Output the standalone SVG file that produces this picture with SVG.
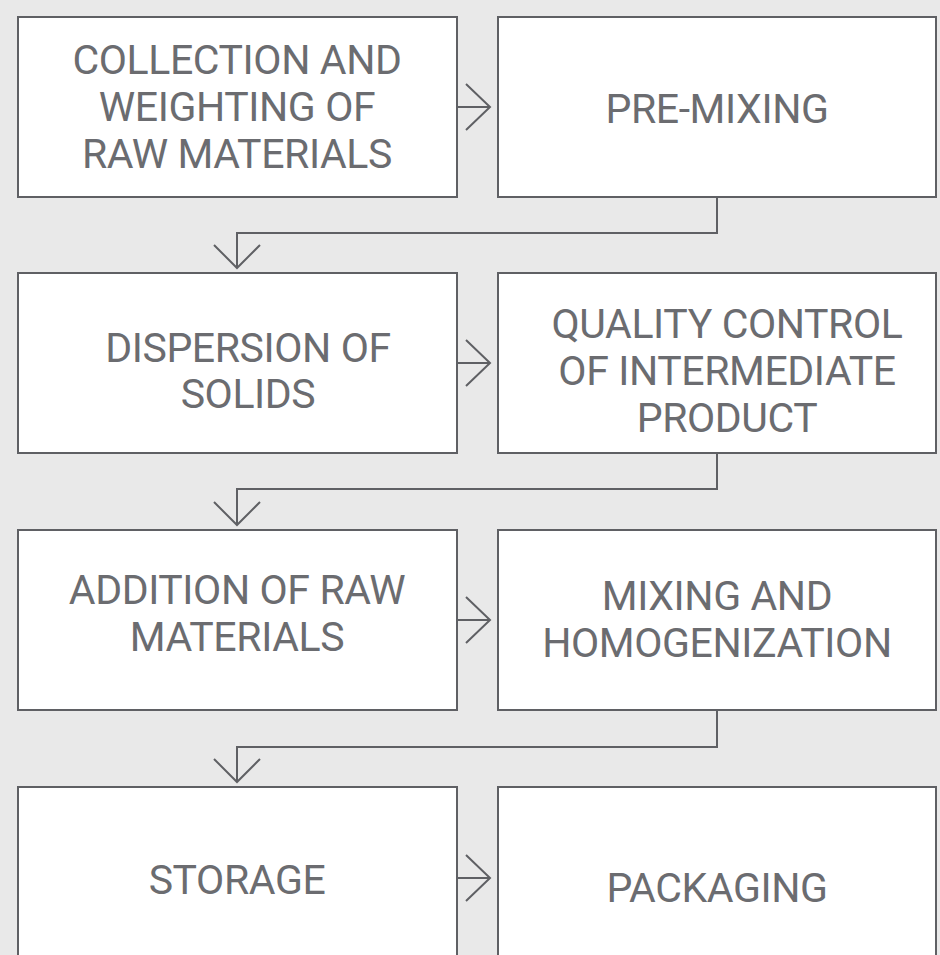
<svg xmlns="http://www.w3.org/2000/svg" width="940" height="955" viewBox="0 0 940 955">
  <style>
    .box { fill: #ffffff; stroke: #5f6064; stroke-width: 2; }
    .lbl { font-family: Roboto, "Liberation Sans", sans-serif; font-size: 41px; letter-spacing: -0.4px; fill: #6b6c70; text-anchor: middle; }
    .wire { fill: none; stroke: #5f6064; stroke-width: 2; }
    .head { fill: none; stroke: #5f6064; stroke-width: 2; stroke-linejoin: miter; }
  </style>
  <rect width="940" height="955" fill="#e9e9e9"/>

  <!-- Row 1 -->
  <g id="collection">
    <rect class="box" x="18" y="17" width="439" height="180"/>
    <text class="lbl" x="237" y="74">COLLECTION AND</text>
    <text class="lbl" x="237" y="121">WEIGHTING OF</text>
    <text class="lbl" x="237" y="168">RAW MATERIALS</text>
  </g>
  <g id="premixing">
    <rect class="box" x="498" y="17" width="438" height="180"/>
    <text class="lbl" x="717" y="123">PRE-MIXING</text>
  </g>

  <!-- Row 2 -->
  <g id="dispersion">
    <rect class="box" x="18" y="273" width="439" height="180"/>
    <text class="lbl" x="248" y="362">DISPERSION OF</text>
    <text class="lbl" x="248" y="408">SOLIDS</text>
  </g>
  <g id="quality">
    <rect class="box" x="498" y="273" width="438" height="180"/>
    <text class="lbl" x="727" y="338">QUALITY CONTROL</text>
    <text class="lbl" x="727" y="385">OF INTERMEDIATE</text>
    <text class="lbl" x="727" y="432">PRODUCT</text>
  </g>

  <!-- Row 3 -->
  <g id="addition">
    <rect class="box" x="18" y="530" width="439" height="180"/>
    <text class="lbl" x="237" y="604">ADDITION OF RAW</text>
    <text class="lbl" x="237" y="651">MATERIALS</text>
  </g>
  <g id="mixing">
    <rect class="box" x="498" y="530" width="438" height="180"/>
    <text class="lbl" x="717" y="610">MIXING AND</text>
    <text class="lbl" x="717" y="657">HOMOGENIZATION</text>
  </g>

  <!-- Row 4 (runs off the bottom edge) -->
  <g id="storage">
    <rect class="box" x="18" y="787" width="439" height="200"/>
    <text class="lbl" x="237" y="894">STORAGE</text>
  </g>
  <g id="packaging">
    <rect class="box" x="498" y="787" width="438" height="200"/>
    <text class="lbl" x="717" y="902">PACKAGING</text>
  </g>

  <!-- Connectors -->
  <g id="connectors">
    <!-- horizontal arrows between columns -->
    <path class="wire" d="M457 107 H489"/>
    <path class="head" d="M466 84 L490 107 L466 130"/>
    <path class="wire" d="M457 363 H489"/>
    <path class="head" d="M466 340 L490 363 L466 386"/>
    <path class="wire" d="M457 620 H489"/>
    <path class="head" d="M466 597 L490 620 L466 643"/>
    <path class="wire" d="M457 878 H489"/>
    <path class="head" d="M466 855 L490 878 L466 901"/>

    <!-- elbow connectors from right column down to next row -->
    <path class="wire" d="M717 197 V233 H237 V267"/>
    <path class="head" d="M214 245 L237 268 L260 245"/>
    <path class="wire" d="M717 453 V489 H237 V524"/>
    <path class="head" d="M214 502 L237 525 L260 502"/>
    <path class="wire" d="M717 710 V747 H237 V781"/>
    <path class="head" d="M214 759 L237 782 L260 759"/>
  </g>
</svg>
